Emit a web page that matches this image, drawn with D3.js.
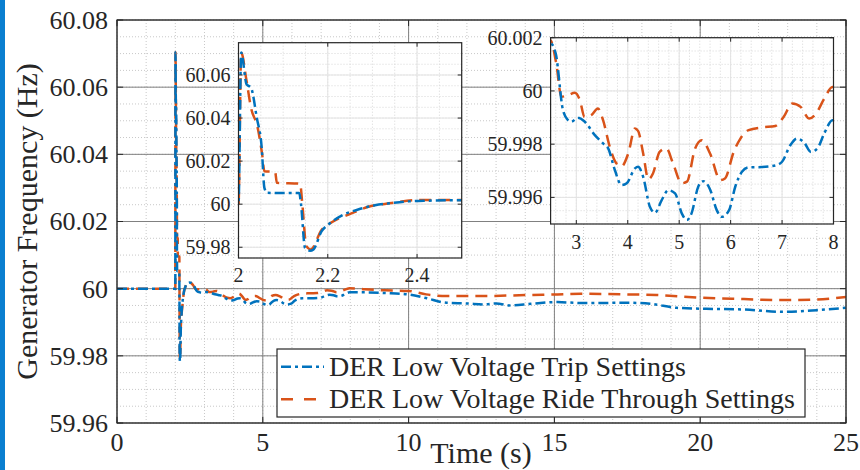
<!DOCTYPE html>
<html>
<head>
<meta charset="utf-8">
<script src="https://cdn.jsdelivr.net/npm/d3@7"></script>
<style>
body { margin: 0; background: #fff; }
text { font-family: "Liberation Serif", "Times New Roman", serif; fill: #262626; }
</style>
</head>
<body>
<div id="chart"></div>
<script>
// data
var tripTime = [0, 2.0, 2.006, 2.018, 2.028, 2.041, 2.052, 2.058, 2.064, 2.082, 2.136, 2.14, 2.149, 2.16, 2.168, 2.186, 2.201, 2.231, 2.268, 2.306, 2.343, 2.381, 2.418, 2.493,
	2.6, 2.74, 2.84, 2.9, 3.03, 3.16, 3.36, 3.52, 3.62, 3.75, 3.88, 3.98, 4.14, 4.2, 4.3, 4.43, 4.53, 4.66, 4.79, 4.92, 5.05, 5.15, 5.24, 5.37, 5.47, 5.6, 5.73, 5.83, 5.97,
	6.09, 6.22, 6.35, 6.61, 6.87, 7.0, 7.16, 7.29, 7.43, 7.56, 7.69, 7.82, 7.98,
	8.5, 9.2, 10.0, 10.6, 11.3, 12.0, 12.6, 13.0, 13.5, 14.2, 15.1, 16.0, 17.5, 18.3, 19.2, 20.2, 21.5, 22.8, 24.0, 25];
var tripFreq = [60, 60, 60.0704, 60.0557, 60.0541, 60.0401, 60.0262, 60.0076, 60.0053, 60.0052, 60.0052, 60.0, 59.9797, 59.9784, 59.979, 59.9874, 59.9905, 59.9947, 59.9975, 59.9995, 60.0005, 60.0013, 60.0016, 60.0018,
	60.0014, 59.99928, 59.9989, 59.99884, 59.99899, 59.99885, 59.99834, 59.99803, 59.99784, 59.99702, 59.99646, 59.99653, 59.99709, 59.99715, 59.99677, 59.99565, 59.99542, 59.9959, 59.99627, 59.99615, 59.9954, 59.99515, 59.9954, 59.9964, 59.99661, 59.9963, 59.99552, 59.99527, 59.99552,
	59.9964, 59.99696, 59.99713, 59.99714, 59.9972, 59.99734, 59.99796, 59.99821, 59.99806, 59.99771, 59.99785, 59.9984, 59.9989,
	59.9989, 59.9987, 59.9983, 59.9972, 59.9958, 59.9956, 59.9953, 59.9956, 59.995, 59.9955, 59.996, 59.9957, 59.9958, 59.9955, 59.9943, 59.994, 59.9938, 59.9931, 59.9936, 59.9943];

var rideTime = [0, 2.0, 2.006, 2.018, 2.028, 2.043, 2.053, 2.058, 2.082, 2.086, 2.138, 2.143, 2.152, 2.162, 2.186, 2.208, 2.253, 2.291, 2.343, 2.396, 2.493,
	2.61, 2.71, 2.84, 2.97, 3.07, 3.16, 3.29, 3.42, 3.52, 3.65, 3.78, 3.88, 4.01, 4.14, 4.2, 4.3, 4.4, 4.49, 4.62, 4.75, 4.88, 5.05, 5.15, 5.31, 5.44, 5.6, 5.8, 5.89,
	6.06, 6.19, 6.35, 6.61, 6.87, 7.03, 7.2, 7.36, 7.53, 7.66, 7.82, 7.98,
	8.5, 9.2, 10.0, 10.6, 11.3, 12.6, 14.0, 15.1, 15.9, 17.5, 18.5, 20.0, 21.5, 22.8, 24.0, 25];
var rideFreq = [60, 60, 60.0704, 60.0573, 60.0448, 60.0355, 60.0231, 60.0153, 60.015, 60.0099, 60.0095, 60.0, 59.9805, 59.979, 59.988, 59.9915, 59.9957, 59.9988, 60.0005, 60.0019, 60.0019,
	60.00103, 59.99978, 59.99984, 59.99993, 59.99965, 59.99902, 59.99909, 59.99934, 59.9989, 59.9979, 59.99728, 59.99717, 59.99765, 59.99859, 59.9985, 59.99765, 59.99668, 59.9969, 59.99771, 59.99784, 59.99728, 59.99653, 59.99659, 59.99784, 59.99815, 59.99765, 59.99665, 59.99671,
	59.99771, 59.99821, 59.99853, 59.99863, 59.99868, 59.99902, 59.99953, 59.9994, 59.99896, 59.99915, 59.99971, 60.00015,
	59.9998, 59.9995, 59.9993, 59.9983, 59.9978, 59.9978, 59.9981, 59.9983, 59.9985, 59.9983, 59.9981, 59.9973, 59.9969, 59.9966, 59.9968, 59.9975];

var seriesNames = ["DER Low Voltage Trip Settings", "DER Low Voltage Ride Through Settings"];
var seriesColors = ["#0072bd", "#d95319"];
var seriesDash = ["10,4,3,4", "12,7"];
var legendDash = ["10,4,3,4", "12,11"];

var mainXTicks = [0, 5, 10, 15, 20, 25];
var mainYTicks = [59.96, 59.98, 60, 60.02, 60.04, 60.06, 60.08];
var zoomAXTicks = [2, 2.2, 2.4];
var zoomAYTicks = [59.98, 60, 60.02, 60.04, 60.06];
var zoomBXTicks = [3, 4, 5, 6, 7, 8];
var zoomBYTicks = [59.996, 59.998, 60, 60.002];

var serif = "'Liberation Serif', 'Times New Roman', serif";

var w = 860,
	h = 470,
	svg = d3
		.select("#chart")
		.append("svg")
		.attr("width", w)
		.attr("height", h)
		.attr("font-family", serif);

svg.append("rect").attr("width", w).attr("height", h).attr("fill", "#fff");
// blue strip on the left edge
svg.append("rect").attr("x", 0).attr("y", 0).attr("width", 5).attr("height", h).attr("fill", "#0a7fd0");

var series = [
	d3.zip(tripTime, tripFreq),
	d3.zip(rideTime, rideFreq)
];

var clipCount = 0;

function steps(d0, d1, step) {
	var out = [];
	var start = Math.ceil(d0 / step - 1e-6);
	for (var k = start; k * step <= d1 + step * 1e-6; k++) out.push(+(k * step).toFixed(6));
	return out;
}

function panel(cfg) {
	var x = d3.scaleLinear().domain(cfg.xDomain).range([cfg.left, cfg.right]);
	var y = d3.scaleLinear().domain(cfg.yDomain).range([cfg.bottom, cfg.top]);
	var g = svg.append("g");

	g.append("rect")
		.attr("x", cfg.left).attr("y", cfg.top)
		.attr("width", cfg.right - cfg.left).attr("height", cfg.bottom - cfg.top)
		.attr("fill", "#fff");

	// minor grid
	g.selectAll(null).data(steps(cfg.xDomain[0], cfg.xDomain[1], cfg.xMinor)).enter().append("line")
		.attr("x1", d => x(d)).attr("x2", d => x(d))
		.attr("y1", cfg.top).attr("y2", cfg.bottom)
		.attr("stroke", cfg.minorColor).attr("stroke-width", 1).attr("stroke-dasharray", "1,2");
	g.selectAll(null).data(steps(cfg.yDomain[0], cfg.yDomain[1], cfg.yMinor)).enter().append("line")
		.attr("y1", d => y(d)).attr("y2", d => y(d))
		.attr("x1", cfg.left).attr("x2", cfg.right)
		.attr("stroke", cfg.minorColor).attr("stroke-width", 1).attr("stroke-dasharray", "1,2");

	// major grid
	g.selectAll(null).data(cfg.xTicks).enter().append("line")
		.attr("x1", d => x(d)).attr("x2", d => x(d))
		.attr("y1", cfg.top).attr("y2", cfg.bottom)
		.attr("stroke", cfg.majorColor).attr("stroke-width", 1);
	g.selectAll(null).data(cfg.yTicks).enter().append("line")
		.attr("y1", d => y(d)).attr("y2", d => y(d))
		.attr("x1", cfg.left).attr("x2", cfg.right)
		.attr("stroke", cfg.majorColor).attr("stroke-width", 1);

	// data
	var id = "clip" + (clipCount++);
	g.append("clipPath").attr("id", id).append("rect")
		.attr("x", cfg.left).attr("y", cfg.top)
		.attr("width", cfg.right - cfg.left).attr("height", cfg.bottom - cfg.top);

	var line = d3.line()
		.x(d => x(d[0]))
		.y(d => y(d[1]))
		.curve(d3.curveMonotoneX);

	var lines = g.append("g").attr("clip-path", "url(#" + id + ")");
	[1, 0].forEach(function(i) {
		lines.append("path")
			.datum(series[i])
			.attr("d", line)
			.attr("fill", "none")
			.attr("stroke", seriesColors[i])
			.attr("stroke-width", 2.5)
			.attr("stroke-dasharray", seriesDash[i]);
	});

	// box and inward ticks
	g.append("rect")
		.attr("x", cfg.left).attr("y", cfg.top)
		.attr("width", cfg.right - cfg.left).attr("height", cfg.bottom - cfg.top)
		.attr("fill", "none").attr("stroke", "#262626").attr("stroke-width", 1.2);
	var tl = cfg.tickLen;
	cfg.xTicks.forEach(function(d) {
		g.append("line").attr("x1", x(d)).attr("x2", x(d)).attr("y1", cfg.bottom).attr("y2", cfg.bottom - tl).attr("stroke", "#262626");
		g.append("line").attr("x1", x(d)).attr("x2", x(d)).attr("y1", cfg.top).attr("y2", cfg.top + tl).attr("stroke", "#262626");
	});
	cfg.yTicks.forEach(function(d) {
		g.append("line").attr("y1", y(d)).attr("y2", y(d)).attr("x1", cfg.left).attr("x2", cfg.left + tl).attr("stroke", "#262626");
		g.append("line").attr("y1", y(d)).attr("y2", y(d)).attr("x1", cfg.right).attr("x2", cfg.right - tl).attr("stroke", "#262626");
	});

	// tick labels
	g.selectAll(null).data(cfg.xTicks).enter().append("text")
		.attr("x", d => x(d))
		.attr("y", cfg.bottom + cfg.xLabelGap)
		.attr("text-anchor", "middle")
		.attr("font-family", serif)
		.style("font-size", cfg.fontSize + "px")
		.text(d => String(d));
	g.selectAll(null).data(cfg.yTicks).enter().append("text")
		.attr("x", cfg.left - cfg.yLabelGap)
		.attr("y", d => y(d) + cfg.fontSize * 0.34)
		.attr("text-anchor", "end")
		.attr("font-family", serif)
		.style("font-size", cfg.fontSize + "px")
		.text(d => String(d));

	return { x: x, y: y };
}

// main axes
panel({
	left: 117, right: 846, top: 20, bottom: 423,
	xDomain: [0, 25], yDomain: [59.96, 60.08],
	xTicks: mainXTicks, yTicks: mainYTicks,
	xMinor: 1, yMinor: 0.005,
	majorColor: "#808080", minorColor: "#c8c8c8",
	tickLen: 6, fontSize: 26, xLabelGap: 28, yLabelGap: 9
});

// zoom on the disturbance
panel({
	left: 238.5, right: 461.7, top: 42.7, bottom: 258,
	xDomain: [2, 2.5], yDomain: [59.975, 60.075],
	xTicks: zoomAXTicks, yTicks: zoomAYTicks,
	xMinor: 0.05, yMinor: 0.005,
	majorColor: "#e3e3e3", minorColor: "#d6d6d6",
	tickLen: 4, fontSize: 20, xLabelGap: 24, yLabelGap: 8
});

// zoom on the recovery
panel({
	left: 550.6, right: 833.5, top: 37.7, bottom: 224,
	xDomain: [2.5, 8], yDomain: [59.995, 60.002],
	xTicks: zoomBXTicks, yTicks: zoomBYTicks,
	xMinor: 0.2, yMinor: 0.0005,
	majorColor: "#e3e3e3", minorColor: "#d6d6d6",
	tickLen: 4, fontSize: 20, xLabelGap: 25, yLabelGap: 8
});

// axis labels
svg.append("text")
	.attr("x", 481).attr("y", 463)
	.attr("text-anchor", "middle")
	.attr("font-family", serif)
	.style("font-size", "30px")
	.text("Time (s)");

svg.append("text")
	.attr("transform", "translate(27.5,221.5) rotate(-90)")
	.attr("dy", "0.33em")
	.attr("text-anchor", "middle")
	.attr("font-family", serif)
	.style("font-size", "30px")
	.text("Generator Frequency (Hz)");

// legend
var legend = svg.append("g");
legend.append("rect")
	.attr("x", 277).attr("y", 349).attr("width", 528).attr("height", 68)
	.attr("fill", "#fff").attr("stroke", "#262626").attr("stroke-width", 1.2);
seriesNames.forEach(function(name, i) {
	var cy = 366.7 + i * 32.6;
	legend.append("line")
		.attr("x1", 281).attr("x2", i == 1 ? 316 : 324).attr("y1", cy).attr("y2", cy)
		.attr("stroke", seriesColors[i]).attr("stroke-width", 2.5)
		.attr("stroke-dasharray", legendDash[i]);
	legend.append("text")
		.attr("x", 329).attr("y", cy + 9)
		.attr("font-family", serif)
		.style("font-size", "28px")
		.text(name);
});
</script>
</body>
</html>
